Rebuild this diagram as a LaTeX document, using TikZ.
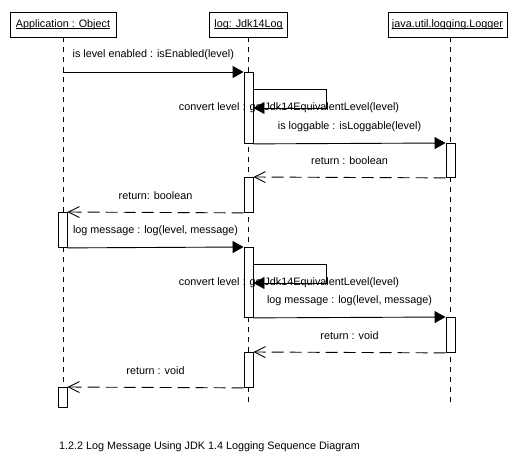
\documentclass[tikz,border=0pt]{standalone}
\usepackage{fontspec}
\setmainfont{Liberation Sans}
\usetikzlibrary{arrows.meta}
\newcommand\myul[1]{\setbox0\hbox{#1}\rlap{\rule[-1.6pt]{\wd0}{0.8pt}}\box0}
\begin{document}
\begin{tikzpicture}[x=1pt,y=-1pt,
  every node/.style={font=\fontsize{10.8}{13}\selectfont},
  obj/.style={draw, line width=0.9pt, minimum height=25pt, inner sep=0pt, fill=white},
  act/.style={draw, line width=0.9pt, fill=white, minimum width=9pt, inner sep=0pt, anchor=north},
  lifeline/.style={line width=0.9pt, dash pattern=on 5pt off 5pt},
  call/.style={line width=0.9pt, -{Triangle[length=11pt,width=12pt]}},
  ret/.style={line width=0.9pt, dash pattern=on 12pt off 6pt, -{Straight Barb[length=11pt,width=11pt]}},
  lbl/.style={inner sep=0pt, midway, yshift=17pt},
  slbl/.style={inner sep=0pt},
]
\fill[white] (0,0) rectangle (526,465);
\useasboundingbox (0,0) rectangle (526,465);

% objects
\node[obj, minimum width=106pt] (app) at (63,24.5) {\myul{Application : Object}};
\node[obj, minimum width=78pt] (log) at (248.5,24.5) {\myul{log: Jdk14Log}};
\node[obj, minimum width=119pt] (lgr) at (447.5,24.5) {\myul{java.util.logging.Logger}};

% lifelines
\coordinate (appEnd) at (63,407);
\coordinate (logEnd) at (248.5,407);
\coordinate (lgrTop) at (450.5,37);
\coordinate (lgrEnd) at (450.5,407);
\draw[lifeline] (app.south) -- (appEnd);
\draw[lifeline] (log.south) -- (logEnd);
\draw[lifeline] (lgrTop) -- (lgrEnd);

% activations
\node[act, minimum height=71pt] (a1) at (248.5,72) {};
\node[act, minimum height=34pt] (l1) at (450.5,143) {};
\node[act, minimum height=35pt] (a2) at (248.5,177) {};
\node[act, minimum height=35pt] (p1) at (62.5,212) {};
\node[act, minimum height=70pt] (a3) at (248.5,247) {};
\node[act, minimum height=35pt] (l2) at (450.5,317) {};
\node[act, minimum height=35pt] (a4) at (248.5,352) {};
\node[act, minimum height=20pt] (p2) at (62.5,387) {};

% messages
\coordinate (s1) at (63,72);
\draw[call] (s1) -- node[lbl] (m1) {is level enabled : isEnabled(level)} (a1.north west);

\node[slbl] (c1) at (289,108) {convert level : getJdk14EquivalentLevel(level)};
\draw[call] ([yshift=-17pt]a1.north east) -- ++(73,0) -- ++(0,19) -- ([yshift=-36pt]a1.north east);

\draw[call] (a1.south east) -- node[lbl] (m2) {is loggable : isLoggable(level)} (l1.north west);
\draw[ret] (l1.south west) -- node[lbl] (r1) {return : boolean} (a2.north east);
\draw[ret] (a2.south west) -- node[lbl] (r2) {return: boolean} (p1.north east);
\draw[call] (p1.south east) -- node[lbl] (m3) {log message : log(level, message)} (a3.north west);

\node[slbl] (c2) at (289,283) {convert level : getJdk14EquivalentLevel(level)};
\draw[call] ([yshift=-17pt]a3.north east) -- ++(73,0) -- ++(0,19) -- ([yshift=-36pt]a3.north east);

\draw[call] (a3.south east) -- node[lbl] (m4) {log message : log(level, message)} (l2.north west);
\draw[ret] (l2.south west) -- node[lbl] (r3) {return : void} (a4.north east);
\draw[ret] (a4.south west) -- node[lbl] (r4) {return : void} (p2.north east);

% caption
\node[slbl, anchor=west] (cap) at (59,447) {1.2.2 Log Message Using JDK 1.4 Logging Sequence Diagram};
\end{tikzpicture}
\end{document}
